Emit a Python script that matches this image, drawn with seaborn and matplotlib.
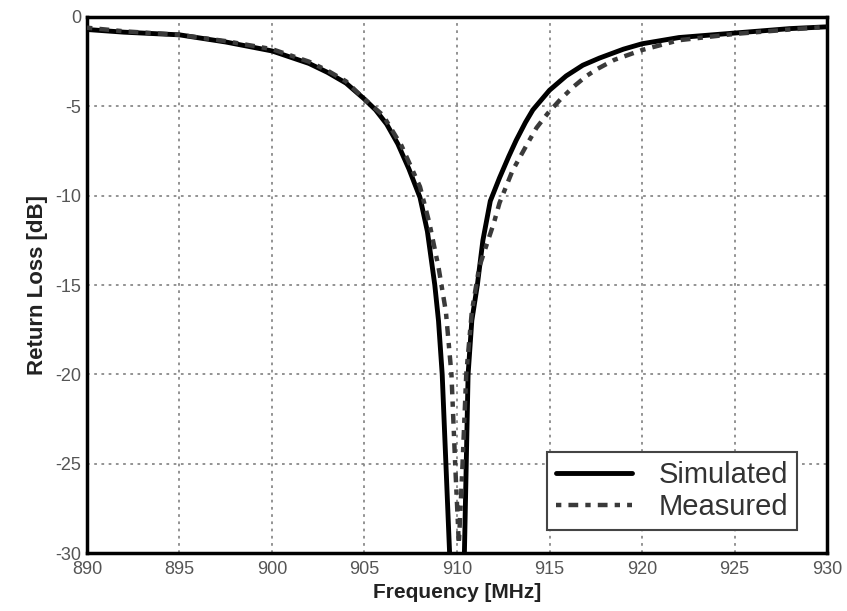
import matplotlib
matplotlib.use("Agg")
import matplotlib.pyplot as plt
import seaborn as sns
import numpy as np
import pandas as pd

# -------------data-------------

sim_freq = [890, 892, 895, 897.5, 900, 902, 903, 904, 905, 905.6, 906.2, 906.8, 907.4,
            908, 908.4, 908.8, 909.0, 909.2, 909.4, 909.6, 910.0, 910.4, 910.5,
            910.6, 910.8, 911.1, 911.4, 911.8, 912.3, 912.8, 913.2, 913.7, 914.1,
            915.0, 915.9, 916.8, 917.7, 919, 920, 922, 925, 928, 930]
sim_db = [-0.7, -0.85, -1.0, -1.4, -1.9, -2.6, -3.1, -3.7, -4.6, -5.2, -6.0, -7.1, -8.5,
          -10.1, -12.0, -15.0, -17.0, -20.0, -25.0, -30.0, -42.0, -30.0, -25.0,
          -20.0, -17.0, -15.0, -12.5, -10.3, -9.0, -7.8, -6.9, -5.9, -5.2,
          -4.1, -3.3, -2.7, -2.3, -1.8, -1.5, -1.15, -0.9, -0.65, -0.55]

meas_freq = [890, 892, 895, 897.5, 900, 902, 903, 904, 905, 906, 907, 908, 908.5,
             909.0, 909.4, 909.7, 909.9, 910.1, 910.3, 910.5, 910.8, 911.2, 912.0,
             912.3, 913.0, 913.8, 914.3, 914.9, 915.6, 916.3, 917.0, 917.6, 918.5,
             920, 922, 925, 928, 930]
meas_db = [-0.6, -0.8, -1.0, -1.35, -1.8, -2.5, -3.0, -3.6, -4.6, -5.5, -7.2, -9.5, -11.5,
           -14.0, -16.5, -20.0, -25.0, -29.5, -25.0, -20.0, -16.5, -14.0, -11.5,
           -10.4, -8.6, -7.1, -6.2, -5.4, -4.6, -3.9, -3.3, -2.9, -2.4,
           -1.85, -1.3, -0.95, -0.7, -0.55]

x_ticks = [890, 895, 900, 905, 910, 915, 920, 925, 930]
y_ticks = [0, -5, -10, -15, -20, -25, -30]

# -------------plot-------------

sns.set_style("whitegrid")
plt.rcParams['font.family'] = ['Liberation Sans', 'DejaVu Sans']

sim = pd.DataFrame({"freq": sim_freq, "db": sim_db})
meas = pd.DataFrame({"freq": meas_freq, "db": meas_db})

fig = plt.figure(figsize=(8.47, 6.11), dpi=100)
ax = fig.add_axes([0.1027, 0.0949, 0.8737, 0.8773])

sns.lineplot(data=sim, x="freq", y="db", ax=ax, color="black", linewidth=3.5,
             estimator=None, sort=False, label="Simulated", zorder=3)
sns.lineplot(data=meas, x="freq", y="db", ax=ax, color="#3a3a3a", linewidth=3.2,
             estimator=None, sort=False, label="Measured", zorder=4)
ax.lines[1].set_dashes([1.2, 1.6, 2.2, 1.6])

ax.set(xlim=(890, 930), ylim=(-30, 0), xticks=x_ticks, yticks=y_ticks)
ax.grid(True, linestyle=(0, (1.5, 2.5)), color="#8a8a8a", linewidth=1.3)
for axis in ['top', 'bottom', 'left', 'right']:
    ax.spines[axis].set_visible(True)
    ax.spines[axis].set_color("black")
    ax.spines[axis].set_linewidth(2.5)
ax.tick_params(axis='both', direction='in', length=4, width=1.2, colors='#555555',
               labelsize=13)
ax.tick_params(axis='x', pad=6)
ax.tick_params(axis='y', pad=4)
ax.set_xticklabels([str(t) for t in x_ticks])
ax.set_yticklabels([str(t) for t in y_ticks])
ax.set_xlabel("Frequency [MHz]", fontsize=15, fontweight='bold', color='#222222', labelpad=3)
ax.set_ylabel("Return Loss [dB]", fontsize=16, fontweight='bold', color='#222222', labelpad=5)

leg = ax.legend(loc='lower right', bbox_to_anchor=(0.959, 0.043), borderaxespad=0,
                fontsize=21, frameon=True, fancybox=False, handlelength=2.6,
                borderpad=0.3, labelspacing=0.15, handletextpad=0.9)
leg.get_frame().set_edgecolor('#444444')
leg.get_frame().set_linewidth(1.5)
leg.get_frame().set_alpha(1)
for txt in leg.get_texts():
    txt.set_color('#333333')

fig.savefig("out.png", dpi=100)
